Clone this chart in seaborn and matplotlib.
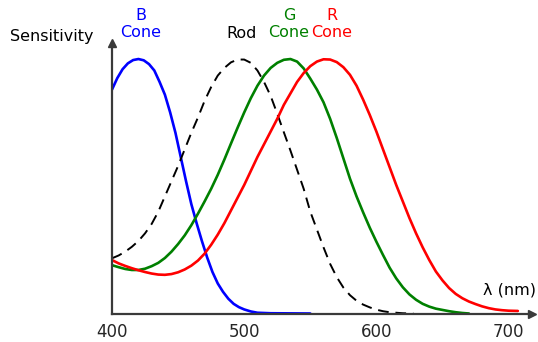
import matplotlib
matplotlib.use("Agg")
import matplotlib.pyplot as plt
import seaborn as sns

# ---- data read (estimated) from the reference ----
blue_wl = [400, 404, 408, 412, 416, 420, 424, 428, 432, 436, 440, 444, 448, 452, 456, 460, 464, 468,
           472, 476, 480, 484, 488, 492, 496, 500, 505, 510, 520, 550]
blue_s = [0.88, 0.925, 0.96, 0.983, 0.996, 1.0, 0.995, 0.98, 0.955, 0.91, 0.86, 0.79, 0.71, 0.615, 0.52,
          0.43, 0.355, 0.285, 0.22, 0.163, 0.118, 0.085, 0.058, 0.038, 0.025, 0.016, 0.008, 0.003, 0.001, 0.0]

rod_wl = [400, 405, 410, 415, 420, 425, 430, 435, 440, 445, 450, 455, 460, 465, 470, 475, 480, 485, 490,
          495, 500, 505, 510, 515, 520, 525, 530, 535, 540, 545, 550, 555, 560, 565, 570, 575, 580, 585,
          590, 595, 600, 605, 610, 615, 620, 628]
rod_s = [0.217, 0.228, 0.243, 0.262, 0.285, 0.315, 0.352, 0.40, 0.46, 0.52, 0.58, 0.645, 0.71, 0.77,
         0.835, 0.89, 0.935, 0.965, 0.987, 0.998, 0.998, 0.985, 0.955, 0.91, 0.855, 0.785, 0.712, 0.64,
         0.565, 0.49, 0.40, 0.33, 0.26, 0.195, 0.143, 0.102, 0.072, 0.05, 0.035, 0.024, 0.015, 0.009,
         0.005, 0.003, 0.001, 0.0]

green_wl = [400, 405, 410, 415, 420, 425, 430, 435, 440, 445, 450, 455, 460, 465, 470, 475, 480, 485, 490,
            495, 500, 505, 510, 515, 520, 525, 530, 535, 540, 545, 550, 555, 560, 565, 570, 575, 580, 585,
            590, 595, 600, 605, 610, 615, 620, 625, 630, 635, 640, 645, 650, 655, 660, 665, 670]
green_s = [0.19, 0.182, 0.175, 0.171, 0.171, 0.176, 0.186, 0.199, 0.218, 0.243, 0.273, 0.307, 0.347,
           0.392, 0.44, 0.49, 0.545, 0.605, 0.668, 0.73, 0.79, 0.846, 0.895, 0.935, 0.965, 0.985, 0.997,
           1.0, 0.99, 0.963, 0.923, 0.88, 0.83, 0.765, 0.69, 0.61, 0.53, 0.46, 0.397, 0.337, 0.282, 0.23,
           0.18, 0.138, 0.103, 0.075, 0.054, 0.038, 0.027, 0.019, 0.014, 0.009, 0.005, 0.002, 0.0]

red_wl = [400, 405, 410, 415, 420, 425, 430, 435, 440, 445, 450, 455, 460, 465, 470, 475, 480, 485, 490,
          495, 500, 505, 510, 515, 520, 525, 530, 535, 540, 545, 550, 555, 560, 565, 570, 575, 580, 585,
          590, 595, 600, 605, 610, 615, 620, 625, 630, 635, 640, 645, 650, 655, 660, 665, 670, 675, 680,
          685, 690, 695, 700, 707]
red_s = [0.21, 0.197, 0.187, 0.178, 0.17, 0.163, 0.157, 0.153, 0.152, 0.155, 0.162, 0.173, 0.188, 0.208,
         0.235, 0.27, 0.31, 0.355, 0.405, 0.455, 0.505, 0.56, 0.615, 0.665, 0.715, 0.765, 0.82, 0.865,
         0.91, 0.945, 0.972, 0.99, 0.999, 0.998, 0.988, 0.968, 0.938, 0.895, 0.84, 0.78, 0.715, 0.645,
         0.575, 0.505, 0.44, 0.375, 0.315, 0.26, 0.21, 0.165, 0.13, 0.1, 0.077, 0.06, 0.047, 0.037, 0.028,
         0.021, 0.016, 0.013, 0.011, 0.01]

x_ticks = [400, 450, 500, 550, 600, 650, 700]
x_tick_labels = ["400", "", "500", "", "600", "", "700"]
y_ticks = [0, 0.2, 0.4, 0.6, 0.8, 1.0]

sns.set_style("white")
plt.rcParams["font.family"] = ["DejaVu Sans"]

fig = plt.figure(figsize=(5.38, 3.42), dpi=100)
ax = fig.add_axes([112 / 538, 1 - 313.5 / 342, (532 - 112) / 538, (313.5 - 43) / 342])

lw = 1.9
sns.lineplot(x=blue_wl, y=blue_s, ax=ax, color="#0000ff", linewidth=lw)
sns.lineplot(x=rod_wl, y=rod_s, ax=ax, color="black", linewidth=1.4, linestyle=(0, (5.5, 3.5)))
sns.lineplot(x=green_wl, y=green_s, ax=ax, color="#008000", linewidth=lw)
sns.lineplot(x=red_wl, y=red_s, ax=ax, color="#ff0000", linewidth=lw)

ax.set_xlim(400, 717.7)
ax.set_ylim(0, 1.063)
for side in ["top", "right"]:
    ax.spines[side].set_visible(False)
axis_col = "#3a3a3a"
for side in ["left", "bottom"]:
    ax.spines[side].set_color(axis_col)
    ax.spines[side].set_linewidth(1.6)
ax.plot(1, 0, marker=">", color=axis_col, ms=6, transform=ax.transAxes, clip_on=False)
ax.plot(0, 1, marker="^", color=axis_col, ms=6, transform=ax.transAxes, clip_on=False)

ax.set_xticks(x_ticks)
ax.set_xticklabels(x_tick_labels, fontsize=12)
ax.set_yticks(y_ticks)
ax.set_yticklabels([])
ax.tick_params(axis="both", direction="out", length=4, width=1, color=axis_col, pad=3)
ax.set_xlabel("")
ax.set_ylabel("")

fs = 11.5
fig.text(10 / 538, 1 - 37 / 342, "Sensitivity", ha="left", va="center", fontsize=fs, color="black")
fig.text(141 / 538, 1 - 24 / 342, "B\nCone", ha="center", va="center", fontsize=fs, color="#0000ff", linespacing=1.1)
fig.text(242 / 538, 1 - 33 / 342, "Rod", ha="center", va="center", fontsize=fs, color="black")
fig.text(289 / 538, 1 - 24 / 342, "G\nCone", ha="center", va="center", fontsize=fs, color="#008000", linespacing=1.1)
fig.text(332 / 538, 1 - 24 / 342, "R\nCone", ha="center", va="center", fontsize=fs, color="#ff0000", linespacing=1.1)
fig.text(536 / 538, 1 - 290 / 342, "λ (nm)", ha="right", va="center", fontsize=fs, color="black")

fig.savefig("out.png", dpi=100)
